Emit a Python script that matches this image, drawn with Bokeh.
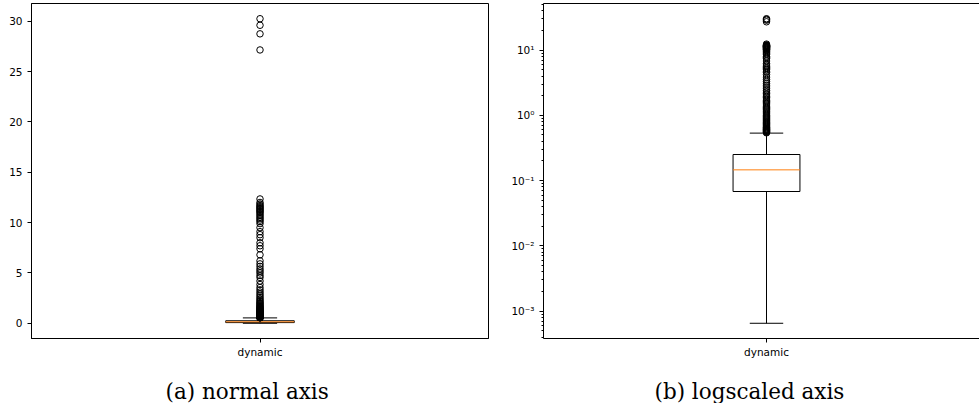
import math
from bokeh.plotting import figure
from bokeh.layouts import row
from bokeh.models import Range1d, FixedTicker, Title, LinearAxis, ColumnDataSource
from bokeh.embed import file_html
from bokeh.resources import INLINE

# ---------------- data ----------------
categories = ["dynamic"]
whisker_low = [0.00065]
q1 = [0.068]
median = [0.146]
q3 = [0.251]
whisker_high = [0.534]
outliers = [0.54, 0.55, 0.56, 0.57, 0.58, 0.59, 0.60, 0.61, 0.62, 0.63, 0.65, 0.66,
            0.68, 0.70, 0.72, 0.74, 0.76, 0.78, 0.80, 0.83, 0.86, 0.89, 0.92, 0.95,
            0.98, 1.01, 1.05, 1.09, 1.13, 1.17, 1.22, 1.27, 1.32, 1.38, 1.44, 1.50,
            1.56, 1.63, 1.70, 1.78, 1.87, 1.96, 2.05, 2.15, 2.27, 2.40, 2.55, 2.72,
            2.90, 3.10, 3.32, 3.55, 3.85, 4.2, 4.55, 4.75, 5.0, 5.2, 5.4, 5.65, 5.9,
            6.2, 6.8, 7.4, 7.7, 8.0, 8.5, 8.8, 9.1, 9.5, 9.9, 10.1, 10.25, 10.4,
            10.55, 10.7, 10.85, 11.0, 11.1, 11.2, 11.3, 11.4, 11.5, 11.6, 11.7,
            11.85, 12.0, 12.35, 27.15, 28.75, 29.6, 30.25]
linear_ticks = [0, 5, 10, 15, 20, 25, 30]
log_ticks = [0.001, 0.01, 0.1, 1, 10]
log_tick_labels = ["10⁻³", "10⁻²", "10⁻¹", "10⁰", "10¹"]
captions = ["(a) normal axis", "(b) logscaled axis"]

# ---------------- style ----------------
BOX_W = 0.15
CAP_W = BOX_W / 2
MEDIAN_COLOR = "#ff7f0e"
TICK_FONT = "DejaVu Sans"
TICK_SIZE = "10.5px"
CAP_FONT = "DejaVu Serif"
CAP_SIZE = "21.5px"

positions = [i + 1 for i in range(len(categories))]


def draw_boxplot(p):
    src = ColumnDataSource(dict(
        x=positions,
        left=[x - BOX_W / 2 for x in positions],
        right=[x + BOX_W / 2 for x in positions],
        cl=[x - CAP_W / 2 for x in positions],
        cr=[x + CAP_W / 2 for x in positions],
        q1=q1, q3=q3, med=median, lo=whisker_low, hi=whisker_high,
    ))
    p.quad(left="left", right="right", bottom="q1", top="q3", source=src,
           fill_color=None, line_color="black", line_width=1)
    p.segment(x0="x", y0="lo", x1="x", y1="q1", source=src, line_color="black", line_width=1)
    p.segment(x0="x", y0="q3", x1="x", y1="hi", source=src, line_color="black", line_width=1)
    p.segment(x0="cl", y0="lo", x1="cr", y1="lo", source=src, line_color="black", line_width=1)
    p.segment(x0="cl", y0="hi", x1="cr", y1="hi", source=src, line_color="black", line_width=1)
    p.segment(x0="left", y0="med", x1="right", y1="med", source=src,
              line_color=MEDIAN_COLOR, line_width=1)
    fx = [positions[0]] * len(outliers)
    p.scatter(x=fx, y=outliers, marker="circle", size=6.5, fill_color=None,
              line_color="black", line_width=1)


def style_axes(p):
    p.xgrid.visible = False
    p.ygrid.visible = False
    for ax in p.xaxis + p.yaxis:
        ax.major_tick_out = 4
        ax.major_tick_in = 0
        ax.major_tick_line_color = "black"
        ax.major_tick_line_width = 1
        ax.major_label_text_font = TICK_FONT
        ax.major_label_text_font_size = TICK_SIZE
        ax.major_label_text_color = "black"
        ax.axis_line_color = "black"
        ax.axis_line_width = 1
    p.xaxis.ticker = FixedTicker(ticks=positions)
    p.xaxis.major_label_overrides = {pos: cat for pos, cat in zip(positions, categories)}
    p.xaxis.minor_tick_line_color = None
    p.xaxis.major_label_standoff = 3
    p.yaxis.major_label_standoff = 5


def add_caption(p, text, offset):
    p.add_layout(Title(text=text, align="left", offset=offset, text_font=CAP_FONT,
                       text_font_size=CAP_SIZE, text_font_style="normal",
                       text_color="black", standoff=0,
                       padding=dict(left=0, right=0, top=16, bottom=0)), "below")


# ---------------- left: linear ----------------
all_vals = whisker_low + whisker_high + outliers
vmin, vmax = min(all_vals), max(all_vals)
span = vmax - vmin
p1 = figure(frame_width=457, frame_height=335,
            x_range=Range1d(0.5, 1.5),
            y_range=Range1d(vmin - 0.05 * span, vmax + 0.05 * span),
            output_backend="svg", toolbar_location=None,
            min_border_left=22, min_border_right=8, min_border_top=0, min_border_bottom=62)
p1.outline_line_color = "black"
p1.outline_line_width = 1
p1.outline_line_alpha = 1
draw_boxplot(p1)
style_axes(p1)
p1.yaxis.ticker = FixedTicker(ticks=linear_ticks)
p1.yaxis.minor_tick_line_color = None
add_caption(p1, captions[0], 134)

# ---------------- right: log ----------------
lmin, lmax = math.log10(vmin), math.log10(vmax)
lspan = lmax - lmin
p2 = figure(frame_width=436, frame_height=335,
            x_range=Range1d(0.5, 1.5 - 10.0 / 446),
            y_range=Range1d(10 ** (lmin - 0.05 * lspan), 10 ** (lmax + 0.05 * lspan)),
            y_axis_type="log",
            output_backend="svg", toolbar_location=None,
            min_border_left=47, min_border_right=0, min_border_top=0, min_border_bottom=62)
p2.outline_line_color = None
draw_boxplot(p2)
style_axes(p2)
minor = [m * 10.0 ** e for e in range(-4, 2) for m in range(2, 10)]
p2.yaxis.ticker = FixedTicker(ticks=log_ticks, minor_ticks=minor)
p2.yaxis.major_label_overrides = {t: lab for t, lab in zip(log_ticks, log_tick_labels)}
p2.yaxis.minor_tick_out = 2
p2.yaxis.minor_tick_in = 0
p2.yaxis.minor_tick_line_color = "black"
top_axis = LinearAxis(ticker=FixedTicker(ticks=[]), major_tick_out=0, major_tick_in=0,
                      minor_tick_out=0, minor_tick_in=0, major_label_standoff=0,
                      major_label_text_font_size="0px", axis_line_color="black",
                      axis_line_width=1)
p2.add_layout(top_axis, "above")
add_caption(p2, captions[1], 111)

layout = row(p1, p2, margin=(3, 0, 0, 6))

open("out.html", "w").write(file_html(layout, INLINE))
